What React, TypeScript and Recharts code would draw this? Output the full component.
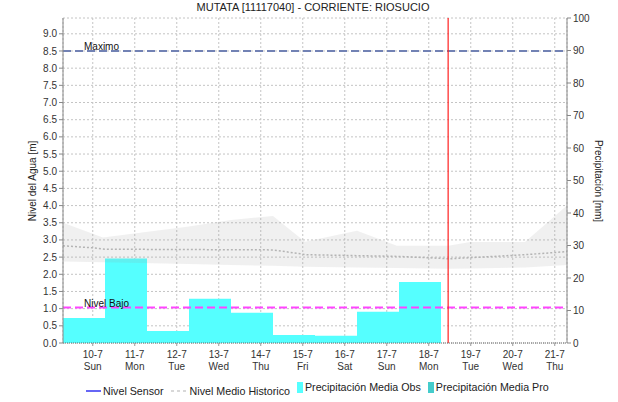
import { ComposedChart, Area, Line, XAxis, YAxis, CartesianGrid, ReferenceLine } from 'recharts'

document.body.style.margin = '0'

// x axis runs in days from 9-7 07:00 (hydrological day) to 21-7 07:00
const dayLabels = ['10-7', '11-7', '12-7', '13-7', '14-7', '15-7', '16-7', '17-7', '18-7', '19-7', '20-7', '21-7']
const weekDays = ['Sun', 'Mon', 'Tue', 'Wed', 'Thu', 'Fri', 'Sat', 'Sun', 'Mon', 'Tue', 'Wed', 'Thu']
const TICK_OFFSET = 17 / 24
const dayTicks = dayLabels.map((_, i) => i + TICK_OFFSET)

// daily precipitation (mm), one step per day
const precipDays = [0, 1, 2, 3, 4, 5, 6, 7, 8, 9]
const precipObs = [7.7, 26, 3.7, 13.6, 9.3, 2.5, 2.2, 9.6, 18.8, 0]

// historic level band (m)
const bandDays = [0, 0.95, 3, 4, 5, 5.76, 7, 7.95, 9.17, 9.7, 11, 12]
const bandLow = [2.37, 2.35, 2.3, 2.27, 2.25, 2.22, 2.2, 2.18, 2.16, 2.17, 2.2, 2.27]
const bandHigh = [3.5, 3.07, 3.39, 3.58, 3.7, 2.95, 3.27, 2.83, 2.83, 2.94, 2.94, 4.0]

// historic mean level (m)
const meanDays = [0, 0.7, 1, 5, 5.8, 8, 8.9, 9.2, 11, 12]
const meanLevel = [2.83, 2.77, 2.73, 2.71, 2.57, 2.52, 2.47, 2.45, 2.57, 2.66]

const levelTicks = [0, 0.5, 1, 1.5, 2, 2.5, 3, 3.5, 4, 4.5, 5, 5.5, 6, 6.5, 7, 7.5, 8, 8.5, 9]
const precipTicks = [0, 10, 20, 30, 40, 50, 60, 70, 80, 90, 100]

const NIVEL_MAXIMO = 8.5
const NIVEL_BAJO = 1.03
const NOW_DAY = 9.17

const precipData = precipDays.map((x, i) => ({ x, obs: precipObs[i] }))
const bandData = bandDays.map((x, i) => ({ x, band: [bandLow[i], bandHigh[i]] }))
const meanData = meanDays.map((x, i) => ({ x, mean: meanLevel[i] }))

const FONT = '"Liberation Sans", Arial, sans-serif'
const tickStyle = { fontSize: 10, fill: '#333', fontFamily: FONT }

function DayTick(props: any) {
  const { x, y, payload } = props
  const i = Math.round(payload.value - TICK_OFFSET)
  return (
    <g transform={`translate(${x},${y})`} fontFamily={FONT} fontSize={10} fill="#333">
      <text textAnchor="middle" y={10}>{dayLabels[i]}</text>
      <text textAnchor="middle" y={22}>{weekDays[i]}</text>
    </g>
  )
}

function LegendItem({ mark, text }: { mark: React.ReactNode; text: string }) {
  return (
    <span style={{ display: 'inline-flex', alignItems: 'center', marginRight: 7 }}>
      {mark}
      <span style={{ marginLeft: 2 }}>{text}</span>
    </span>
  )
}

export default function App() {
  return (
    <div style={{ position: 'relative', width: 618, height: 402, fontFamily: FONT, background: '#fff' }}>
      <div style={{ position: 'absolute', top: 1, left: 4, width: 618, textAlign: 'center', fontSize: 11, color: '#222' }}>
        MUTATA [11117040] - CORRIENTE: RIOSUCIO
      </div>
      <ComposedChart width={618} height={402} margin={{ top: 18, right: 5, left: 23, bottom: 29 }}>
        <CartesianGrid yAxisId="left" stroke="#c4c4c4" strokeDasharray="2 2" />
        <XAxis
          dataKey="x"
          type="number"
          domain={[0, 12]}
          ticks={dayTicks}
          interval={0}
          allowDataOverflow
          height={30}
          tickSize={3}
          tickMargin={2}
          tick={<DayTick />}
          axisLine={{ stroke: '#666', strokeDasharray: '1 1' }}
          tickLine={{ stroke: '#999' }}
        />
        <YAxis
          yAxisId="left"
          domain={[0, 9.46]}
          ticks={levelTicks}
          interval={0}
          allowDataOverflow
          width={40}
          tickSize={4}
          tickMargin={2}
          tickFormatter={(v: number) => v.toFixed(1)}
          tick={tickStyle}
          axisLine={{ stroke: '#888' }}
          tickLine={{ stroke: '#888' }}
          label={() => (
            <text
              x={33}
              y={181}
              transform="rotate(-90, 33, 181)"
              textAnchor="middle"
              dominantBaseline="middle"
              fontSize={10}
              fill="#222"
              fontFamily={FONT}
            >
              Nivel del Agua [m]
            </text>
          )}
        />
        <YAxis
          yAxisId="right"
          orientation="right"
          domain={[0, 100]}
          ticks={precipTicks}
          interval={0}
          allowDataOverflow
          width={46}
          tickSize={4}
          tickMargin={2}
          tick={tickStyle}
          axisLine={{ stroke: '#888' }}
          tickLine={{ stroke: '#888' }}
          label={() => (
            <text
              x={598}
              y={181}
              transform="rotate(90, 598, 181)"
              textAnchor="middle"
              dominantBaseline="middle"
              fontSize={10}
              fill="#222"
              fontFamily={FONT}
            >
              Precipitación [mm]
            </text>
          )}
        />
        <Area
          yAxisId="right"
          data={precipData}
          dataKey="obs"
          type="stepAfter"
          stroke="none"
          fill="#55ffff"
          fillOpacity={1}
          isAnimationActive={false}
        />
        <Area
          yAxisId="left"
          data={bandData}
          dataKey="band"
          type="linear"
          stroke="none"
          fill="#999999"
          fillOpacity={0.15}
          isAnimationActive={false}
        />
        <Line
          yAxisId="left"
          data={meanData}
          dataKey="mean"
          type="linear"
          stroke="#b4b4b4"
          strokeWidth={1.5}
          strokeDasharray="2 2"
          dot={false}
          isAnimationActive={false}
        />
        <ReferenceLine
          yAxisId="left"
          y={NIVEL_MAXIMO}
          stroke="#7282b4"
          strokeWidth={2}
          strokeDasharray="8 4"
          label={(p: any) => (
            <text x={p.viewBox.x + 21} y={p.viewBox.y - 1} fontSize={10} fill="#111" fontFamily={FONT}>
              Maximo
            </text>
          )}
        />
        <ReferenceLine
          yAxisId="left"
          y={NIVEL_BAJO}
          stroke="#ff44ff"
          strokeWidth={2}
          strokeDasharray="8 4"
          label={(p: any) => (
            <text x={p.viewBox.x + 21} y={p.viewBox.y - 1} fontSize={10} fill="#111" fontFamily={FONT}>
              Nivel Bajo
            </text>
          )}
        />
        <ReferenceLine yAxisId="left" x={NOW_DAY} stroke="#ff2020" strokeWidth={1.2} />
      </ComposedChart>
      <div
        style={{
          position: 'absolute',
          top: 381,
          left: 86,
          fontSize: 10.7,
          color: '#222',
          whiteSpace: 'nowrap',
        }}
      >
        <LegendItem
          mark={<svg width={15} height={4}><line x1={0} y1={2} x2={15} y2={2} stroke="#0000ee" strokeWidth={1.2} /></svg>}
          text="Nivel Sensor"
        />
        <LegendItem
          mark={<svg width={17} height={4}><line x1={0} y1={2} x2={17} y2={2} stroke="#cccccc" strokeWidth={1.5} strokeDasharray="3 3" /></svg>}
          text="Nivel Medio Historico"
        />
        <LegendItem mark={<span style={{ display: 'inline-block', width: 6, height: 11, background: '#55ffff' }} />} text="Precipitación Media Obs" />
        <LegendItem mark={<span style={{ display: 'inline-block', width: 6, height: 11, background: '#44cccc' }} />} text="Precipitación Media Pro" />
      </div>
    </div>
  )
}
